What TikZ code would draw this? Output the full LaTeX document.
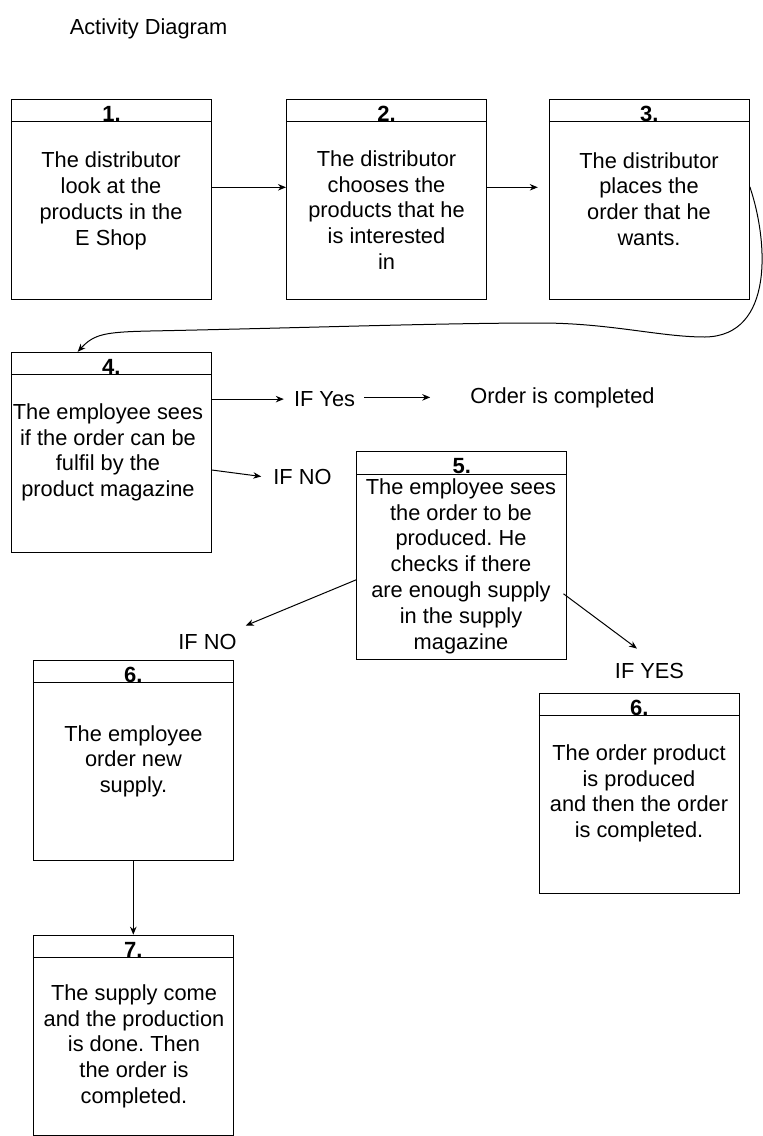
\documentclass[tikz,border=0pt]{standalone}
\usepackage{fontspec}
\setmainfont{Liberation Sans}
\usetikzlibrary{arrows.meta}
\frenchspacing
\begin{document}
\begin{tikzpicture}[x=1pt,y=-1pt,
  lane/.style={draw, line width=1pt, minimum width=200pt, minimum height=200pt, inner sep=0pt},
  hline/.style={line width=1pt},
  hdr/.style={font=\fontsize{22}{25}\selectfont\bfseries, inner sep=0pt, anchor=base},
  body/.style={font=\fontsize{21.8}{25.8}\selectfont, align=center, inner sep=0pt, anchor=north},
  lbl/.style={font=\fontsize{21.8}{25}\selectfont, inner sep=0pt, anchor=base},
  arr/.style={line width=1pt, -{Stealth[length=8pt,width=6.5pt]}}]
\useasboundingbox (0,0) rectangle (763,1136);

% title
\node[lbl] (title) at (148.5,34.5) {Activity Diagram};

% lanes
\node[lane] (b1) at (111.5,199.3) {};
\node[lane] (b2) at (386.5,199.3) {};
\node[lane] (b3) at (649.3,199.3) {};
\node[lane] (b4) at (111.3,452.3) {};
\node[lane, minimum width=210pt, minimum height=208pt] (b5) at (461.7,555.8) {};
\node[lane] (b6l) at (133.3,760) {};
\node[lane] (b6r) at (639.3,793) {};
\node[lane] (b7) at (133.3,1035.2) {};

% header lines and numbers
\foreach \b/\n in {b1/1., b2/2., b3/3., b4/4., b5/5., b6l/6., b6r/6., b7/7.}{
  \draw[hline] ([yshift=-23pt]\b.north west) -- ([yshift=-23pt]\b.north east);
  \node[hdr] (h\b) at ([yshift=-22.5pt]\b.north) {\n};
}

% body texts
\node[body] (t1) at (111,151.6) {The distributor\\look at the\\products in the\\E Shop};
\node[body] (t2) at (386.5,150.3) {The distributor\\chooses the\\products that he\\is interested\\in};
\node[body] (t3) at (649,152) {The distributor\\places the\\order that he\\wants.};
\node[body] (t4) at (108,403.3) {The employee sees\\if the order can be\\fulfil by the\\product magazine};
\node[body] (t5) at (461,478.3) {The employee sees\\the order to be\\produced. He\\checks if there\\are enough supply\\in the supply\\magazine};
\node[body] (t6l) at (133.5,725) {The employee\\order new\\supply.};
\node[body] (t6r) at (639,744.3) {The order product\\is produced\\and then the order\\is completed.};
\node[body] (t7) at (134,984.3) {The supply come\\and the production\\is done. Then\\the order is\\completed.};

% labels
\node[lbl] (ifyes) at (324.5,406.5) {IF Yes};
\node[lbl] (order) at (562.5,403) {Order is completed};
\node[lbl] (ifno1) at (302.5,484) {IF NO};
\node[lbl] (ifno2) at (207.5,649) {IF NO};
\node[lbl] (ifyes2) at (649.5,678) {IF YES};

% connectors
\draw[arr] ([yshift=12pt]b1.east) -- ([yshift=12pt]b2.west);
\draw[arr] ([yshift=12pt]b2.east) -- ([shift={(-11pt,12pt)}]b3.west);
\coordinate (tip4) at ([xshift=-33.6pt]b4.north);
\draw[arr] ([yshift=12.6pt]b3.east) .. controls (768,240) and (775,336) .. (705,337)
  .. controls (660,337) and (610,323) .. (540,323)
  .. controls (440,323) and (300,328) .. (150,331)
  .. controls (105,332) and (94,334) .. (tip4);
\draw[arr] (b4.east |- ifyes.west) -- ([xshift=-10pt]ifyes.west);
\draw[arr] ([xshift=9pt]ifyes.east |- order.west) -- ([xshift=-40pt]order.west);
\draw[arr] ([yshift=-17.7pt]b4.east) -- ([xshift=-12pt]ifno1.west);
\draw[arr] ([yshift=-24pt]b5.west) -- ([shift={(9pt,8pt)}]ifno2.north east);
\draw[arr] ([shift={(-3.7pt,-38pt)}]b5.east) -- ([shift={(-12.5pt,14pt)}]ifyes2.north);
\draw[arr] (b6l.south) -- (b7.north);
\end{tikzpicture}
\end{document}
